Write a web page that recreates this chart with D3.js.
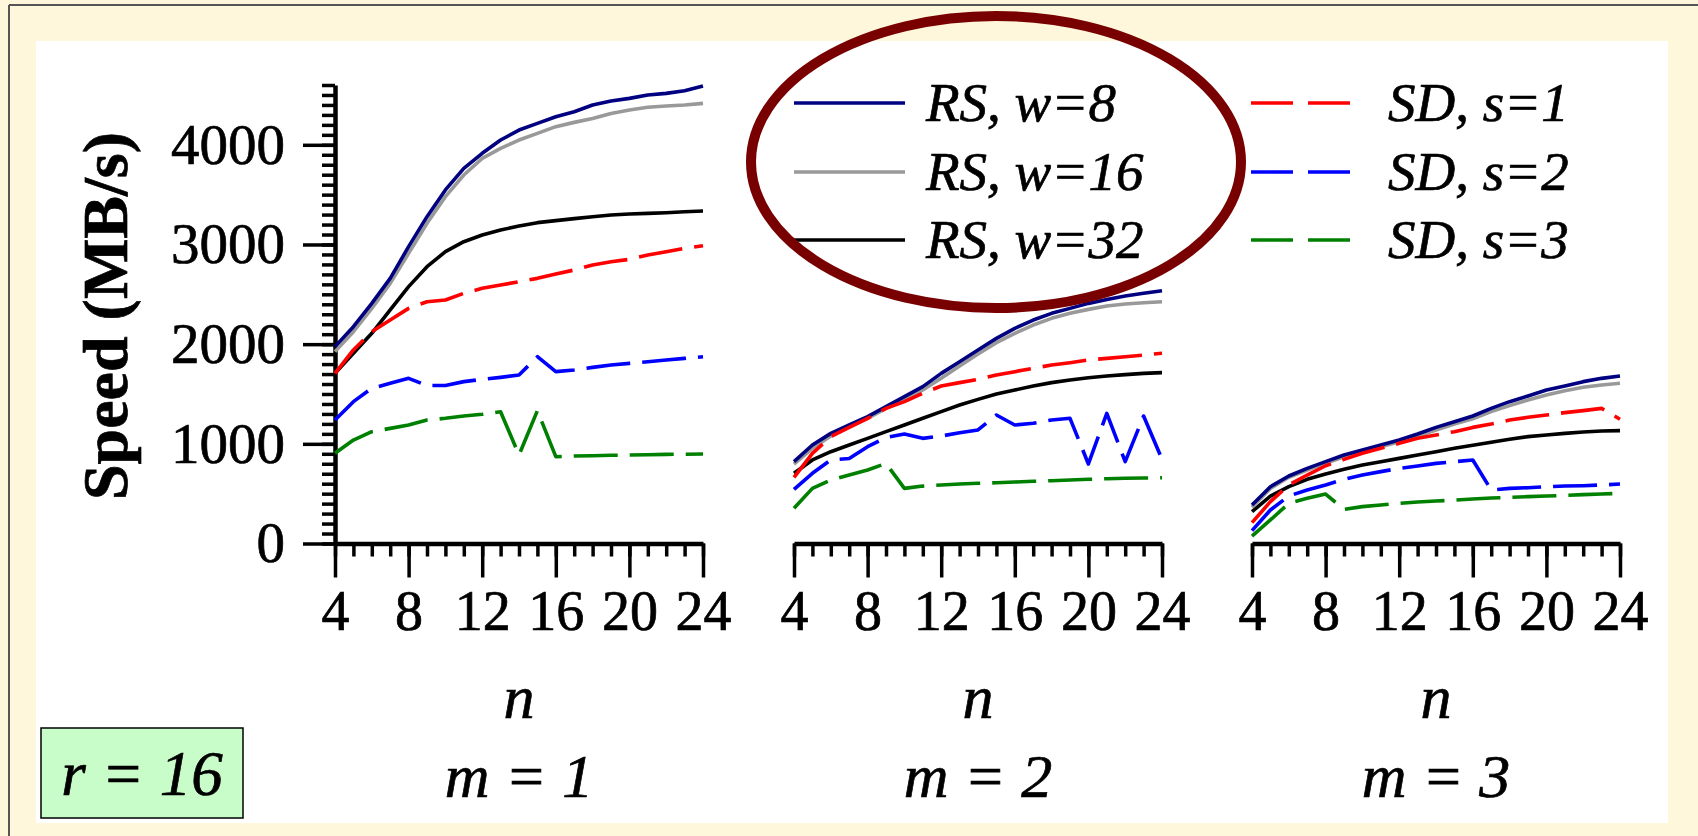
<!DOCTYPE html>
<html>
<head>
<meta charset="utf-8">
<script src="https://cdn.jsdelivr.net/npm/d3@7"></script>
<style>
  body { margin: 0; background: #fff7dc; }
  text { font-family: "Liberation Serif", "Times New Roman", serif; fill: #000; stroke: #000; stroke-width: 0.7px; }
</style>
</head>
<body>
<div id="chart"></div>
<script>
// n on the x axis, one panel per m
const nValues = [4, 5, 6, 7, 8, 9, 10, 11, 12, 13, 14, 15, 16, 17, 18, 19, 20, 21, 22, 23, 24];
const xTickLabels = [4, 8, 12, 16, 20, 24];
const yTickLabels = [0, 1000, 2000, 3000, 4000];
const panelNames = ["m = 1", "m = 2", "m = 3"];

// speed in MB/s, one row per m
const rsW8 = [
  [1975, 2175, 2409, 2660, 2978, 3279, 3547, 3764, 3915, 4048, 4148, 4215, 4282, 4332, 4399, 4439, 4466, 4499, 4516, 4543, 4590],
  [821, 988, 1105, 1189, 1273, 1373, 1473, 1574, 1707, 1824, 1941, 2058, 2159, 2242, 2309, 2359, 2409, 2449, 2483, 2510, 2536],
  [386, 570, 677, 754, 821, 888, 938, 988, 1038, 1098, 1165, 1222, 1279, 1356, 1423, 1480, 1540, 1580, 1624, 1657, 1680]
];
const rsW16 = [
  [1925, 2125, 2359, 2610, 2911, 3212, 3480, 3697, 3864, 3964, 4048, 4115, 4182, 4225, 4265, 4315, 4349, 4376, 4389, 4399, 4416],
  [797, 955, 1078, 1172, 1256, 1356, 1446, 1540, 1657, 1781, 1901, 2015, 2108, 2192, 2259, 2309, 2349, 2383, 2403, 2416, 2426],
  [363, 552, 664, 737, 804, 871, 921, 971, 1021, 1078, 1139, 1199, 1252, 1323, 1383, 1440, 1490, 1533, 1567, 1590, 1607]
];
const rsW32 = [
  [1707, 1908, 2109, 2343, 2577, 2777, 2928, 3028, 3095, 3145, 3185, 3219, 3239, 3259, 3279, 3296, 3306, 3312, 3319, 3329, 3336],
  [704, 838, 921, 988, 1055, 1122, 1189, 1256, 1323, 1389, 1446, 1500, 1540, 1580, 1614, 1640, 1663, 1680, 1694, 1707, 1714],
  [319, 476, 570, 644, 697, 744, 787, 821, 854, 888, 921, 955, 985, 1015, 1045, 1072, 1089, 1105, 1118, 1129, 1132]
];
const sdS1 = [
  [1707, 1942, 2125, 2242, 2359, 2426, 2443, 2510, 2560, 2593, 2627, 2660, 2704, 2744, 2794, 2827, 2851, 2894, 2928, 2961, 2988],
  [664, 905, 1072, 1165, 1256, 1356, 1423, 1507, 1580, 1614, 1647, 1690, 1724, 1757, 1791, 1814, 1841, 1857, 1874, 1891, 1908],
  [209, 420, 587, 687, 780, 844, 905, 955, 1005, 1055, 1089, 1122, 1165, 1199, 1239, 1266, 1289, 1313, 1333, 1356, 1246]
];
const sdS2 = [
  [1239, 1423, 1557, 1607, 1657, 1585, 1585, 1624, 1647, 1667, 1690, 1874, 1724, 1741, 1767, 1791, 1807, 1824, 1841, 1857, 1874],
  [543, 704, 838, 853, 971, 1065, 1098, 1055, 1078, 1111, 1139, 1289, 1189, 1206, 1239, 1256, 798, 1306, 821, 1279, 845],
  [129, 336, 476, 537, 587, 644, 687, 721, 754, 777, 804, 821, 838, 537, 553, 560, 570, 577, 580, 587, 597]
];
const sdS3 = [
  [905, 1038, 1122, 1155, 1189, 1239, 1256, 1279, 1296, 1322, 888, 1333, 871, 878, 881, 885, 888, 891, 894, 896, 898],
  [353, 553, 637, 687, 737, 803, 553, 576, 587, 597, 604, 610, 617, 624, 630, 637, 644, 650, 654, 657, 660],
  [75, 236, 403, 453, 496, 343, 370, 386, 403, 416, 426, 436, 446, 456, 463, 470, 476, 483, 490, 496, 503]
];

const seriesNames = ["RS, w=8", "RS, w=16", "RS, w=32", "SD, s=1", "SD, s=2", "SD, s=3"];
const seriesValues = [rsW8, rsW16, rsW32, sdS1, sdS2, sdS3];
const seriesColors = ["#000080", "#999999", "#000000", "#ff0000", "#0000ff", "#008000"];
const seriesDashed = [false, false, false, true, true, true];

const width = 1698;
const height = 836;
const panelLeft = [335, 794, 1252];
const panelWidth = 368;

const svg = d3.select("#chart").append("svg")
  .attr("width", width)
  .attr("height", height);

// background frame
svg.append("rect").attr("width", width).attr("height", height).attr("fill", "#fff7dc");
svg.append("line").attr("x1", 9).attr("x2", width).attr("y1", 5).attr("y2", 5)
  .attr("stroke", "#555").attr("stroke-width", 2);
svg.append("line").attr("x1", 9).attr("x2", 9).attr("y1", 5).attr("y2", height)
  .attr("stroke", "#555").attr("stroke-width", 2);
svg.append("rect").attr("x", 36).attr("y", 41).attr("width", 1632).attr("height", 782).attr("fill", "#fff");

const y = d3.scaleLinear().domain([0, 4600]).range([543.5, 85]);

// y axis (only on the first panel)
const yMinor = d3.range(0, 4601, 100);
const yAxisG = svg.append("g").attr("transform", `translate(${panelLeft[0]},0)`);
yAxisG.append("g")
  .call(d3.axisLeft(y).tickValues(yMinor).tickSize(13).tickFormat(""))
  .call(g => g.select(".domain").remove());
yAxisG.append("g")
  .call(d3.axisLeft(y).tickValues(yTickLabels).tickSize(32).tickPadding(18).tickSizeOuter(0).tickFormat(d3.format("d")))
  .attr("font-size", 57)
  .attr("font-family", "Liberation Serif, serif");
yAxisG.selectAll(".tick line").attr("stroke-width", 3.5);
yAxisG.selectAll(".domain").attr("stroke-width", 4.5);

svg.append("text")
  .attr("transform", "translate(127,316) rotate(-90)")
  .attr("text-anchor", "middle")
  .attr("font-size", 64)
  .attr("font-weight", "bold")
  .text("Speed (MB/s)");

const line = d3.line();

panelNames.forEach((name, pi) => {
  const x = d3.scaleLinear().domain([4, 24]).range([panelLeft[pi], panelLeft[pi] + panelWidth]);
  const g = svg.append("g");

  const xAxisG = g.append("g").attr("transform", `translate(0,${y(0)})`);
  xAxisG.append("g")
    .call(d3.axisBottom(x).tickValues(nValues).tickSize(13).tickFormat(""))
    .call(a => a.select(".domain").remove());
  xAxisG.append("g")
    .call(d3.axisBottom(x).tickValues(xTickLabels).tickSize(34).tickPadding(13).tickSizeOuter(0))
    .attr("font-size", 56)
    .attr("font-family", "Liberation Serif, serif");
  xAxisG.selectAll(".tick line").attr("stroke-width", 3.5);
  xAxisG.selectAll(".domain").attr("stroke-width", 4.5);

  // draw order: RS w=32, w=16, w=8, then SD
  [2, 1, 0, 5, 4, 3].forEach(si => {
    const pts = nValues.map((n, i) => [x(n), y(seriesValues[si][pi][i])]);
    g.append("path")
      .attr("d", line(pts))
      .attr("fill", "none")
      .attr("stroke", seriesColors[si])
      .attr("stroke-width", 3.6)
      .attr("stroke-linejoin", "round")
      .attr("stroke-dasharray", seriesDashed[si] ? "44,12" : null);
  });

  const cx = panelLeft[pi] + panelWidth / 2;
  g.append("text").attr("x", cx).attr("y", 718).attr("text-anchor", "middle")
    .attr("font-size", 62).attr("font-style", "italic").text("n");
  g.append("text").attr("x", cx).attr("y", 797).attr("text-anchor", "middle")
    .attr("font-size", 62).attr("font-style", "italic").text(name);
});

// legend
const legendRows = [103, 172, 240];
seriesNames.forEach((name, si) => {
  const col = si < 3 ? 0 : 1;
  const ly = legendRows[si % 3];
  const x1 = col === 0 ? 794 : 1251;
  const x2 = col === 0 ? 905 : 1354;
  const tx = col === 0 ? 926 : 1388;
  svg.append("line")
    .attr("x1", x1).attr("x2", x2).attr("y1", ly).attr("y2", ly)
    .attr("stroke", seriesColors[si])
    .attr("stroke-width", 3.6)
    .attr("stroke-dasharray", seriesDashed[si] ? "42,15" : null);
  svg.append("text")
    .attr("x", tx).attr("y", ly + 18)
    .attr("font-size", 55)
    .attr("font-style", "italic")
    .text(name);
});

// highlight ellipse
svg.append("ellipse")
  .attr("cx", 996).attr("cy", 162)
  .attr("rx", 245).attr("ry", 146)
  .attr("fill", "none")
  .attr("stroke", "#780000")
  .attr("stroke-width", 10);

// r label box
svg.append("rect")
  .attr("x", 41).attr("y", 728).attr("width", 202).attr("height", 90)
  .attr("fill", "#c8fcc8").attr("stroke", "#000").attr("stroke-width", 1.5);
svg.append("text")
  .attr("x", 142).attr("y", 795).attr("text-anchor", "middle")
  .attr("font-size", 63).attr("font-style", "italic")
  .text("r = 16");
</script>
</body>
</html>
